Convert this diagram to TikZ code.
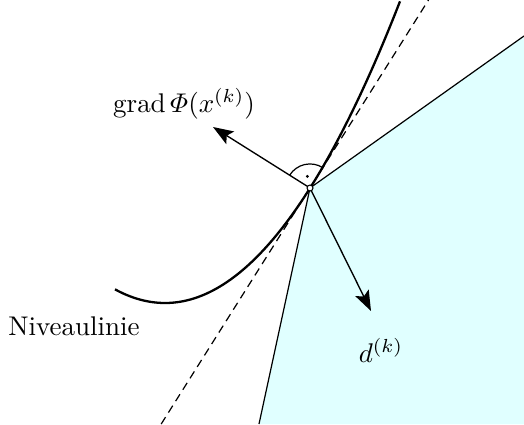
\documentclass[tikz,border=0pt]{standalone}
\usepackage{amsmath}
\usetikzlibrary{arrows.meta}
\definecolor{feasible}{RGB}{224,255,255}
\begin{document}
\begin{tikzpicture}[x=0.37pt,y=0.37pt,
  bigarrow/.style={-{Stealth[length=7.5pt,width=5.5pt,inset=1.5pt]},line width=0.5pt},
  thinline/.style={line width=0.45pt},
  lbl/.style={inner sep=1pt}]
\useasboundingbox (0,-424) rectangle (524,0);
\coordinate (P) at (310,-188.0);
\coordinate (R) at (524,-36);
\coordinate (BR) at (524,-424);
\coordinate (B) at (259,-424);
\coordinate (T1) at (428.5,0);
\coordinate (T2) at (161.2,-424);
\fill[feasible] (P) -- (R) -- (BR) -- (B) -- cycle;
\draw[thinline] (R) -- (P) -- (B);
\draw[thinline,dashed,dash pattern=on 3pt off 2pt] (T2) -- (T1);
\draw[line width=0.85pt] plot[domain=115:400,samples=80,smooth] (\x,{-303+0.005468*(\x-165)*(\x-165)});
\coordinate (G) at (213,-127);
\coordinate (D) at (371,-311);
\draw[bigarrow] (P) -- (G);
\draw[bigarrow] (P) -- (D);
\draw[thinline] (P) ++(57.8:8.9pt) arc[start angle=57.8,end angle=147.8,radius=8.9pt];
\fill (P) ++(102.8:4.4pt) circle[radius=0.6pt];
\draw[line width=0.4pt,fill=white] (P) circle[radius=1.1pt];
\node[lbl] (gl) at (184,-104) {$\operatorname{grad}\varPhi(x^{(k)})$};
\node[lbl] (nl) at (74,-326) {Niveaulinie};
\node[lbl] (dl) at (381,-350) {$d^{(k)}$};
\end{tikzpicture}
\end{document}
